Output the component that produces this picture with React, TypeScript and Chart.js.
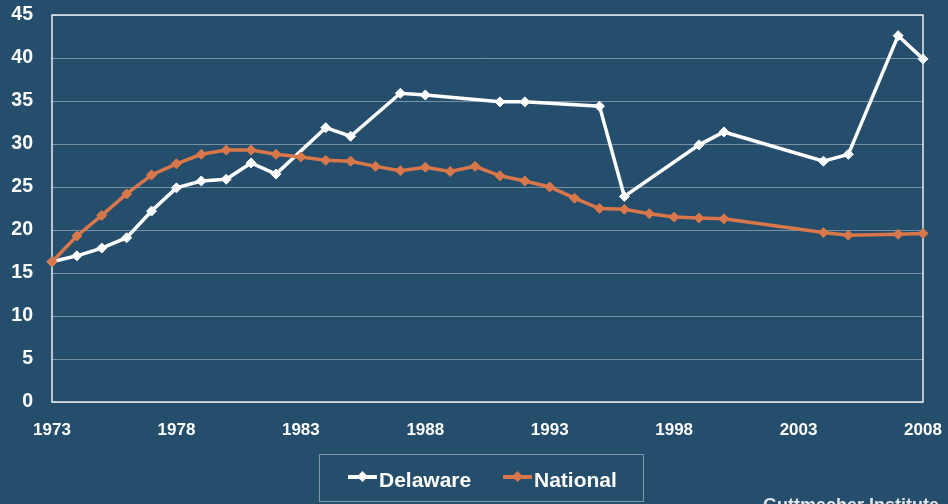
import React, { useEffect, useRef } from "react";
import { Chart, registerables } from "chart.js";

Chart.register(...registerables);

const years: number[] = [
  1973, 1974, 1975, 1976, 1977, 1978, 1979, 1980, 1981, 1982, 1983, 1984,
  1985, 1986, 1987, 1988, 1989, 1990, 1991, 1992, 1993, 1994, 1995, 1996,
  1997, 1998, 1999, 2000, 2001, 2002, 2003, 2004, 2005, 2006, 2007, 2008,
];

const delaware: (number | null)[] = [
  16.3, 17.0, 17.9, 19.1, 22.2, 24.9, 25.7, 25.9, 27.8, 26.5, null, 31.9,
  30.9, null, 35.9, 35.7, null, null, 34.9, 34.9, null, null, 34.4, 23.9,
  null, null, 29.9, 31.4, null, null, null, 28.0, 28.8, null, 42.6, 39.9,
];

const national: (number | null)[] = [
  16.3, 19.3, 21.7, 24.2, 26.4, 27.7, 28.8, 29.3, 29.3, 28.8, 28.5, 28.1,
  28.0, 27.4, 26.9, 27.3, 26.8, 27.4, 26.3, 25.7, 25.0, 23.7, 22.5, 22.4,
  21.9, 21.5, 21.4, 21.3, null, null, null, 19.7, 19.4, null, 19.5, 19.6,
];

const tickYears: number[] = [1973, 1978, 1983, 1988, 1993, 1998, 2003, 2008];

const BG = "rgb(37,77,108)";
const WHITE = "#ffffff";
const ORANGE = "#d9774a";
const FONT = "'Liberation Sans', Arial, sans-serif";

function drawBorder(chart: any) {
  const { ctx, chartArea } = chart;
  ctx.save();
  ctx.strokeStyle = "rgba(245,245,245,0.95)";
  ctx.lineWidth = 1.5;
  ctx.strokeRect(
    chartArea.left,
    chartArea.top,
    chartArea.right - chartArea.left,
    chartArea.bottom - chartArea.top
  );
  ctx.restore();
}

const borderPlugin = {
  id: "plotBorder",
  beforeDatasetsDraw(chart: any) {
    drawBorder(chart);
  },
};

function LegendIcon({ color, left }: { color: string; left: number }) {
  return (
    <div style={{ position: "absolute", left, top: 475, width: 29, height: 4 }}>
      <div
        style={{
          position: "absolute",
          left: 0,
          top: 0,
          width: 29,
          height: 4,
          background: color,
        }}
      />
      <div
        style={{
          position: "absolute",
          left: 11,
          top: -2.5,
          width: 7,
          height: 7,
          background: color,
          transform: "rotate(45deg) scale(1.1)",
        }}
      />
    </div>
  );
}

export default function App() {
  const ref = useRef<HTMLCanvasElement | null>(null);

  useEffect(() => {
    if (!ref.current) return;
    const chart = new Chart(ref.current, {
      type: "line",
      data: {
        labels: years.map(String),
        datasets: [
          {
            label: "National",
            data: national,
            borderColor: ORANGE,
            backgroundColor: ORANGE,
            borderWidth: 3.5,
            pointStyle: "rectRot",
            pointRadius: 5,
            pointBorderWidth: 1,
            pointBorderColor: ORANGE,
            pointBackgroundColor: ORANGE,
            spanGaps: true,
            clip: false as any,
            order: 0,
            tension: 0,
          },
          {
            label: "Delaware",
            data: delaware,
            borderColor: WHITE,
            backgroundColor: WHITE,
            borderWidth: 3.5,
            pointStyle: "rectRot",
            pointRadius: 5,
            pointBorderWidth: 1,
            pointBorderColor: WHITE,
            pointBackgroundColor: WHITE,
            spanGaps: true,
            clip: false as any,
            order: 1,
            tension: 0,
          },
        ],
      },
      options: {
        animation: false,
        responsive: false,
        devicePixelRatio: 1,
        layout: { padding: { top: 15, right: 25, left: 0, bottom: 0 } },
        plugins: {
          legend: { display: false },
          tooltip: { enabled: false },
        },
        scales: {
          x: {
            type: "category",
            offset: false,
            grid: { display: false, drawTicks: false },
            border: { display: false },
            afterFit: (scale: any) => {
              scale.height = 102;
              scale.paddingLeft = 0;
              scale.paddingRight = 0;
            },
            ticks: {
              autoSkip: false,
              maxRotation: 0,
              minRotation: 0,
              padding: 18,
              color: WHITE,
              font: { family: FONT, size: 17, weight: "bold" },
              callback: (_v: any, i: number) =>
                tickYears.includes(years[i]) ? String(years[i]) : "",
            },
          },
          y: {
            min: 0,
            max: 45,
            grid: {
              color: "rgba(255,255,255,0.38)",
              lineWidth: 1,
              drawTicks: false,
            },
            border: { display: false },
            afterFit: (scale: any) => {
              scale.width = 52;
              scale.paddingTop = 0;
              scale.paddingBottom = 0;
            },
            ticks: {
              stepSize: 5,
              padding: 19,
              color: WHITE,
              font: { family: FONT, size: 19.5, weight: "bold" },
            },
          },
        },
      },
      plugins: [borderPlugin],
    });
    return () => chart.destroy();
  }, []);

  return (
    <div
      style={{
        position: "fixed",
        left: 0,
        top: 0,
        width: 948,
        height: 504,
        overflow: "hidden",
        background: BG,
        fontFamily: FONT,
      }}
    >
      <canvas
        ref={ref}
        width={948}
        height={504}
        style={{ position: "absolute", left: 0, top: 0, width: 948, height: 504 }}
      />
      <div
        style={{
          position: "absolute",
          left: 319,
          top: 454,
          width: 323,
          height: 46,
          border: "1.5px solid rgba(200,210,222,0.55)",
        }}
      />
      <LegendIcon color={WHITE} left={348} />
      <div
        style={{
          position: "absolute",
          left: 379,
          top: 469,
          fontSize: 21,
          lineHeight: "21px",
          fontWeight: "bold",
          color: WHITE,
          whiteSpace: "nowrap",
        }}
      >
        Delaware
      </div>
      <LegendIcon color={ORANGE} left={503} />
      <div
        style={{
          position: "absolute",
          left: 534,
          top: 469,
          fontSize: 21,
          lineHeight: "21px",
          fontWeight: "bold",
          color: WHITE,
          whiteSpace: "nowrap",
        }}
      >
        National
      </div>
      <div
        style={{
          position: "absolute",
          left: 763,
          top: 496,
          fontSize: 18,
          lineHeight: "18px",
          fontWeight: "bold",
          color: "#dfe3e8",
          whiteSpace: "nowrap",
        }}
      >
        Guttmacher Institute
      </div>
    </div>
  );
}
